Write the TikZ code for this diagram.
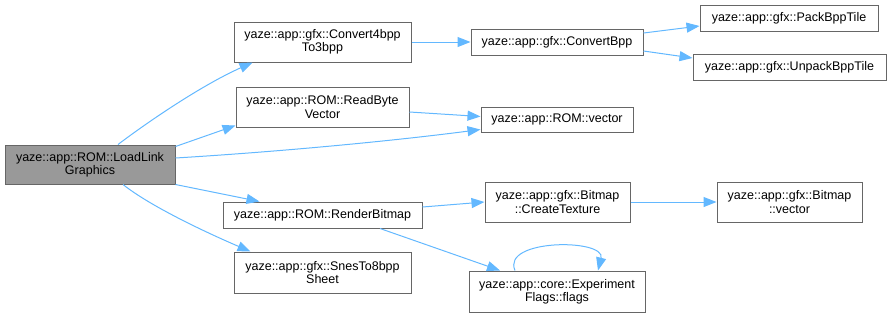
\documentclass[tikz,border=0pt]{standalone}
\usepackage{fontspec}
\setmainfont{Liberation Sans}
\usetikzlibrary{arrows.meta,calc}
\definecolor{edgeblue}{HTML}{63B8FF}
\definecolor{boxline}{HTML}{666666}
\definecolor{curfill}{HTML}{999999}
\begin{document}
\begin{tikzpicture}[x=1pt,y=-1pt,
  fn/.style={draw=boxline, line width=1pt, fill=white, inner sep=0pt,
    align=center, text=black, font=\fontsize{12.5}{13.4}\selectfont},
  cur/.style={fn, fill=curfill},
  call/.style={draw=edgeblue, line width=1pt,
    -{Triangle[length=13pt,width=10pt,fill=edgeblue]}}]
\useasboundingbox (0,0) rectangle (891,317);

% functions
\node[cur, minimum width=170pt, minimum height=39pt] (load) at (90,164.5)
  {yaze::app::ROM::LoadLink\\Graphics};
\node[fn, minimum width=177pt, minimum height=40pt] (c4) at (322.5,42)
  {yaze::app::gfx::Convert4bpp\\To3bpp};
\node[fn, minimum width=173pt, minimum height=40pt] (rbv) at (322.5,107)
  {yaze::app::ROM::ReadByte\\Vector};
\node[fn, minimum width=199pt, minimum height=26pt] (rb) at (322.5,215)
  {yaze::app::ROM::RenderBitmap};
\node[fn, minimum width=177pt, minimum height=41pt] (snes) at (322.5,272.5)
  {yaze::app::gfx::SnesTo8bpp\\Sheet};
\node[fn, minimum width=172pt, minimum height=26pt] (cbpp) at (557,42)
  {yaze::app::gfx::ConvertBpp};
\node[fn, minimum width=152pt, minimum height=25pt] (romv) at (557,119.5)
  {yaze::app::ROM::vector};
\node[fn, minimum width=145pt, minimum height=40pt] (ct) at (557.5,202)
  {yaze::app::gfx::Bitmap\\::CreateTexture};
\node[fn, minimum width=176pt, minimum height=41pt] (flags) at (557,291.5)
  {yaze::app::core::Experiment\\Flags::flags};
\node[fn, minimum width=178pt, minimum height=26pt] (pack) at (789,18)
  {yaze::app::gfx::PackBppTile};
\node[fn, minimum width=193pt, minimum height=26pt] (unpack) at (789.5,67)
  {yaze::app::gfx::UnpackBppTile};
\node[fn, minimum width=145pt, minimum height=40pt] (bvec) at (789.5,202)
  {yaze::app::gfx::Bitmap\\::vector};

% calls from LoadLinkGraphics
\draw[call] ([xshift=28pt]load.north) .. controls (145,124) and (200,86) .. ([xshift=-70pt]c4.south);
\draw[call] ([yshift=-2pt]load.north east) -- ([yshift=2pt]rbv.south west);
\draw[call] ([yshift=6.5pt]load.east) .. controls (290,151) and (400,140) .. ([yshift=-10pt]romv.west);
\draw[call] (load.south east) -- ([xshift=-63pt]rb.north);
\draw[call] ([xshift=33pt]load.south) .. controls (150,206) and (205,232) .. ([xshift=-72pt]snes.north);

% further calls
\draw[call] (c4.east) -- (cbpp.west);
\draw[call] ([yshift=9pt]cbpp.east) -- ([yshift=-8pt]pack.west);
\draw[call] ([yshift=-9pt]cbpp.east) -- ([yshift=9pt]unpack.west);
\draw[call] ([yshift=-5pt]rbv.east) -- ([yshift=3pt]romv.west);
\draw[call] ([yshift=8pt]rb.east) -- (ct.west);
\draw[call] ([xshift=57.5pt]rb.south) -- ([xshift=-57pt]flags.north);
\draw[call] (ct.east) -- (bvec.west);
\draw[call] ([xshift=-42pt]flags.north) .. controls +(-14,-32) and +(8,-32) .. ([xshift=41pt]flags.north);
\end{tikzpicture}
\end{document}
